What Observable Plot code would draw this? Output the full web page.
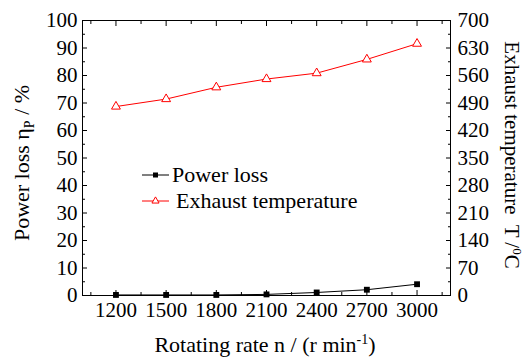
<!DOCTYPE html>
<html><head><meta charset="utf-8">
<script src="https://cdn.jsdelivr.net/npm/d3@7"></script>
<script src="https://cdn.jsdelivr.net/npm/@observablehq/plot@0.6"></script>
<style>body{margin:0;background:#fff;} svg{display:block;}</style>
</head><body><div id="chart"></div>
<script>
const rates = [1200, 1500, 1800, 2100, 2400, 2700, 3000];
const powerLoss = [0.2, 0.2, 0.2, 0.4, 1.1, 2.1, 4.1];
const exhaustTemp = [481, 500, 530, 551, 566, 601, 641];
const xTicks = [1200, 1500, 1800, 2100, 2400, 2700, 3000];
const xMinor = [1050, 1350, 1650, 1950, 2250, 2550, 2850, 3150];
const yTicks = [0, 10, 20, 30, 40, 50, 60, 70, 80, 90, 100];
const yMinor = [5, 15, 25, 35, 45, 55, 65, 75, 85, 95];
const tTicks = [0, 70, 140, 210, 280, 350, 420, 490, 560, 630, 700];
const tScale = 7; // right axis 0–700 mapped onto left 0–100

const data = rates.map((r, i) => ({rate: r, loss: powerLoss[i], temp: exhaustTemp[i], tempY: exhaustTemp[i] / tScale}));
const font = '"Liberation Serif", "Times New Roman", serif';

const chart = Plot.plot({
  width: 525, height: 359,
  marginLeft: 82, marginRight: 75, marginTop: 20, marginBottom: 64,
  style: {fontFamily: font, fontSize: "21px", color: "black", background: "white"},
  x: {domain: [1000, 3200]},
  y: {domain: [0, 100]},
  marks: [
    Plot.frame({stroke: "black", strokeWidth: 1}),
    Plot.axisX({ticks: xTicks, tickSize: -5, tickPadding: 12, tickFormat: d => String(d), label: null}),
    Plot.axisX({ticks: xMinor, tickSize: -3, tickFormat: () => "", label: null}),
    Plot.axisX({anchor: "top", ticks: xTicks, tickSize: -5, tickFormat: () => "", label: null}),
    Plot.axisX({anchor: "top", ticks: xMinor, tickSize: -3, tickFormat: () => "", label: null}),
    Plot.axisY({ticks: yTicks, tickSize: -5, tickPadding: 10, tickFormat: d => String(d), label: null}),
    Plot.axisY({ticks: yMinor, tickSize: -3, tickFormat: () => "", label: null}),
    Plot.axisY({anchor: "right", ticks: tTicks.map(t => t / tScale), tickSize: -5, tickPadding: 12, tickFormat: d => String(Math.round(d * tScale)), label: null}),
    Plot.axisY({anchor: "right", ticks: tTicks.slice(0, -1).map(t => (t + 35) / tScale), tickSize: -3, tickFormat: () => "", label: null}),
    Plot.line(data, {x: "rate", y: "tempY", stroke: "#ff0000", strokeWidth: 1}),
    Plot.dot(data, {x: "rate", y: "tempY", symbol: "triangle", r: 3.3, stroke: "#ff0000", fill: "white", strokeWidth: 1}),
    Plot.line(data, {x: "rate", y: "loss", stroke: "black", strokeWidth: 1}),
    Plot.dot(data, {x: "rate", y: "loss", symbol: "square", r: 3.3, fill: "black", stroke: "none"})
  ]
});
document.getElementById("chart").appendChild(chart);

const svg = d3.select(chart);
const fs = 22;
// Left title
const lt = svg.append("text").attr("transform", "translate(29,163) rotate(-90)")
  .attr("text-anchor", "middle").attr("font-family", font).attr("font-size", fs).attr("fill", "black");
lt.append("tspan").text("Power loss η");
lt.append("tspan").attr("font-size", 14).attr("dy", 5).text("P");
lt.append("tspan").attr("dy", -5).text(" / %");
// Right title
const rt = svg.append("text").attr("transform", "translate(505,155) rotate(90)")
  .attr("text-anchor", "middle").attr("font-family", font).attr("font-size", 21).attr("fill", "black");
rt.append("tspan").text("Exhaust temperature  T /");
rt.append("tspan").attr("font-size", 13).attr("dy", -8).text("0");
rt.append("tspan").attr("dy", 8).text("C");
// Bottom title
const bt = svg.append("text").attr("x", 265).attr("y", 352)
  .attr("text-anchor", "middle").attr("font-family", font).attr("font-size", fs).attr("fill", "black");
bt.append("tspan").text("Rotating rate n / (r min");
bt.append("tspan").attr("font-size", 14).attr("dy", -8).text("-1");
bt.append("tspan").attr("dy", 8).text(")");

// Legend
const lg = svg.append("g");
const items = [
  {label: "Power loss", color: "black", y: 175, sym: "square"},
  {label: "Exhaust temperature", color: "#ff0000", y: 201, sym: "triangle"}
];
items.forEach(it => {
  lg.append("line").attr("x1", 142).attr("x2", 169).attr("y1", it.y).attr("y2", it.y).attr("stroke", it.color);
  if (it.sym === "square") {
    lg.append("rect").attr("x", 153).attr("y", it.y - 2.5).attr("width", 5).attr("height", 5).attr("fill", "black");
  } else {
    lg.append("path").attr("d", d3.symbol(d3.symbolTriangle, 22)()).attr("transform", `translate(155.5,${it.y})`)
      .attr("fill", "white").attr("stroke", it.color);
  }
  lg.append("text").attr("x", it.sym === "square" ? 172 : 176).attr("y", it.y).attr("dy", "0.33em").attr("text-anchor", "start")
    .attr("font-family", font).attr("font-size", fs).attr("fill", "black").text(it.label);
});
</script></body></html>
